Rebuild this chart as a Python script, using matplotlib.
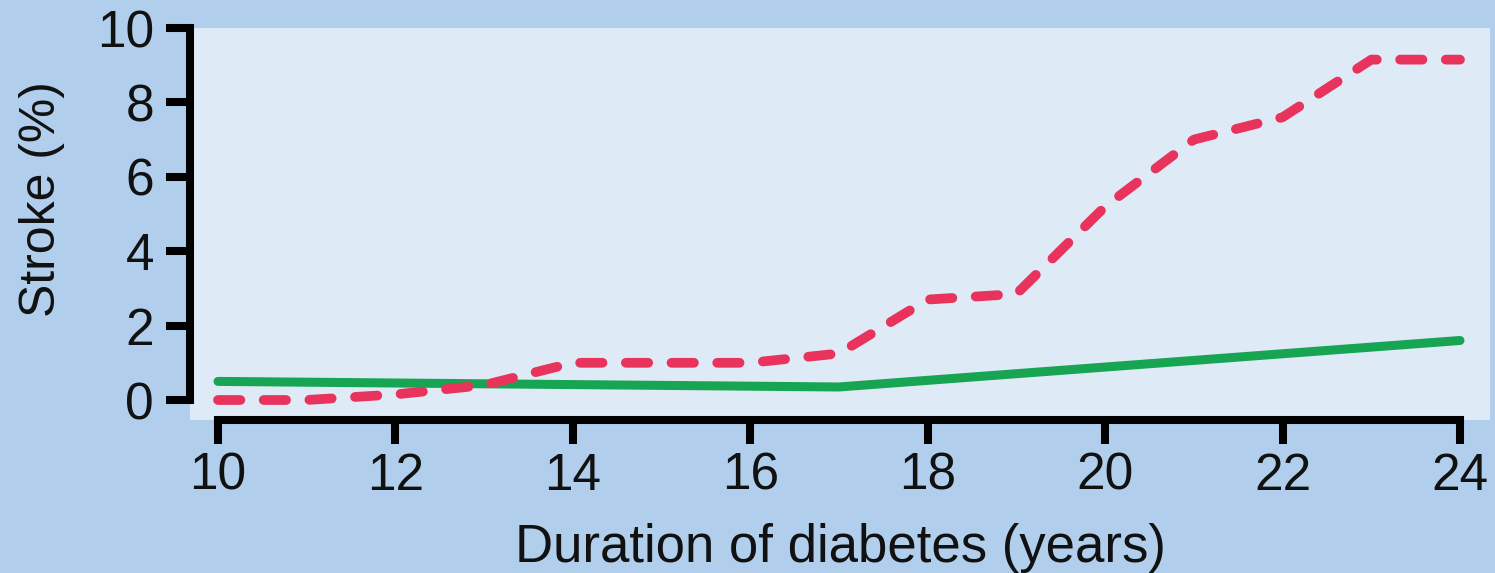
import matplotlib
matplotlib.use("Agg")
import matplotlib.pyplot as plt

# Data
years_red = [10, 11, 12, 13, 14, 15, 16, 17, 18, 19, 20, 21, 22, 23, 24]
stroke_red = [0.0, 0.0, 0.15, 0.4, 1.0, 1.0, 1.0, 1.25, 2.7, 2.85, 5.2, 7.0, 7.6, 9.15, 9.15]
years_green = [10, 17, 24]
stroke_green = [0.5, 0.35, 1.6]
xticks = [10, 12, 14, 16, 18, 20, 22, 24]
yticks = [0, 2, 4, 6, 8, 10]

plt.rcParams["font.family"] = ["Liberation Sans", "DejaVu Sans"]

fig = plt.figure(figsize=(14.95, 5.73), dpi=100)
fig.patch.set_facecolor("#b1cfec")
ax = fig.add_axes([190 / 1495, 1 - 420 / 573, 1300 / 1495, 392 / 573])
ax.set_facecolor("#dfeaf7")

ax.plot(years_green, stroke_green, color="#17a553", lw=6.5, solid_capstyle="round", zorder=3)
ax.plot(years_red, stroke_red, color="#e8335d", lw=7, dashes=(2.3, 2.4),
        dash_capstyle="round", zorder=4)

ax.set_xlim(10 - 28 / 88.71, 24 + 30 / 88.71)
ax.set_ylim(-20 / 37.2, 10)

for s in ["top", "right"]:
    ax.spines[s].set_visible(False)
for s in ["left", "bottom"]:
    ax.spines[s].set_linewidth(5.8)
    ax.spines[s].set_color("black")
    ax.spines[s].set_capstyle("projecting")
ax.spines["left"].set_bounds(0, 10)
ax.spines["bottom"].set_bounds(10, 24)

ax.set_xticks(xticks)
ax.set_yticks(yticks)
ax.tick_params(axis="both", length=17, width=5.8, color="black", labelsize=37,
               labelcolor="#111111")
ax.tick_params(axis="x", pad=6)
ax.tick_params(axis="y", pad=9)
ax.set_xlabel("Duration of diabetes (years)", fontsize=38, labelpad=16, color="#111111")
ax.set_ylabel("Stroke (%)", fontsize=36, labelpad=20, color="#111111")
ax.yaxis.set_label_coords(-42 / 1300 * 1 - 0.0, 0.564)
ax.yaxis.label.set_horizontalalignment("center")
ax.yaxis.set_label_coords(-(190 - 42) / 1300, 0.564)
ax.yaxis.label.set_verticalalignment("center")

fig.savefig("out.png", dpi=100, facecolor=fig.get_facecolor())
